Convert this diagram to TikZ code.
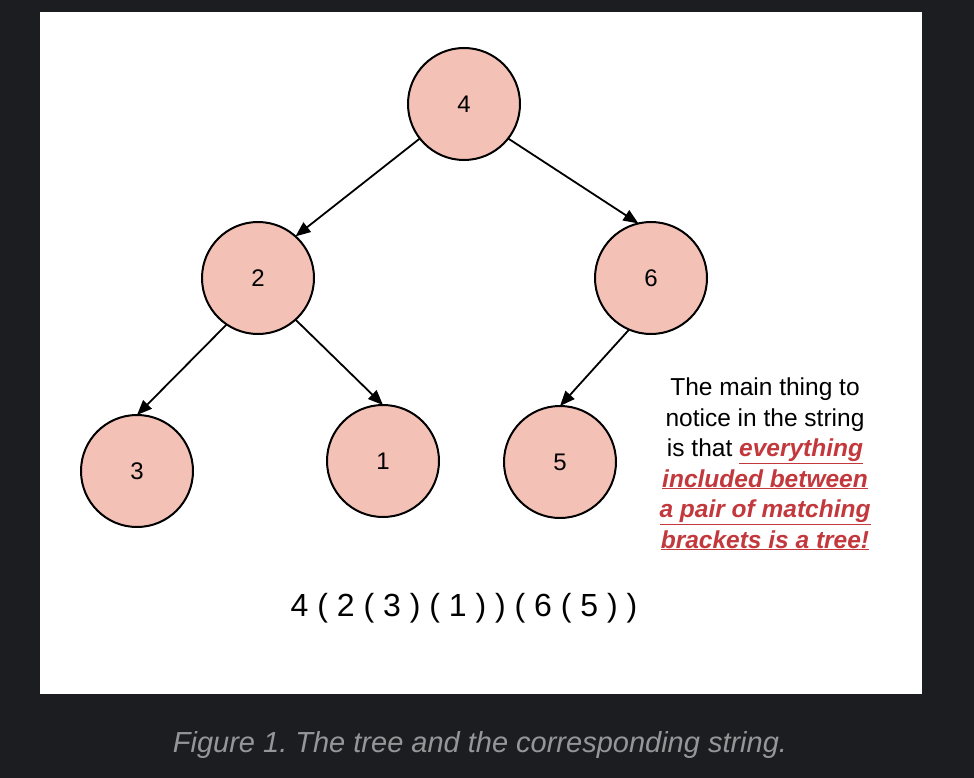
\documentclass[tikz,border=0pt]{standalone}
\usepackage{fontspec}
\setmainfont{Liberation Sans}
\usepackage{tikz}
\usetikzlibrary{positioning, arrows.meta}
\definecolor{nodepink}{RGB}{244,193,183}
\definecolor{notered}{RGB}{194,56,60}
\definecolor{pagedark}{RGB}{28,29,32}
\definecolor{capgray}{RGB}{150,150,153}
\frenchspacing

\begin{document}
\begin{tikzpicture}[x=1pt, y=-1pt, %
        vert/.style={circle, draw, line width=2pt, fill=nodepink, outer sep=0pt,
          minimum size=112pt, inner sep=0pt, font=\fontsize{24}{24}\selectfont},
        arc/.style={line width=1.8pt, -{Triangle[length=15pt, width=12pt]}}
        ]
        \fill[pagedark] (0,0) rectangle (974,778);
        \useasboundingbox (0,0) rectangle (974,778);
        \fill[white] (40,12) rectangle (922,694);
        \node[vert] (n4) at (464,104) {4};
        \node[vert] (n2) at (258,278) {2};
        \node[vert] (n6) at (651,278) {6};
        \node[vert] (n3) at (137,471) {3};
        \node[vert] (n1) at (383,461) {1};
        \node[vert] (n5) at (560,462) {5};
        \draw[arc] (n4.218) -- (n2.48);
        \draw[arc] (n4.-38) -- (n6.103);
        \draw[arc] (n2.236) -- (n3.north);
        \draw[arc] (n2.-48) -- (n1.north);
        \draw[arc] (n6.247) -- (n5.north);
        \node (str) at (464,608) {\fontsize{32}{32}\selectfont 4 ( 2 ( 3 ) ( 1 ) ) ( 6 ( 5 ) )};
        \node[align=center, font=\fontsize{24.5}{30.5}\selectfont] (note) at (765,464)
          {The main thing to\\ notice in the string\\ is that \textcolor{notered}{\bfseries\itshape\underline{everything}}\\
           \textcolor{notered}{\bfseries\itshape\underline{included between}}\\
           \textcolor{notered}{\bfseries\itshape\underline{a pair of matching}}\\
           \textcolor{notered}{\bfseries\itshape\underline{brackets is a tree!}}};
        \node[text=capgray, font=\fontsize{29}{29}\selectfont\itshape] (cap) at (480,745)
          {Figure 1. The tree and the corresponding string.};
      \end{tikzpicture}
\end{document}
